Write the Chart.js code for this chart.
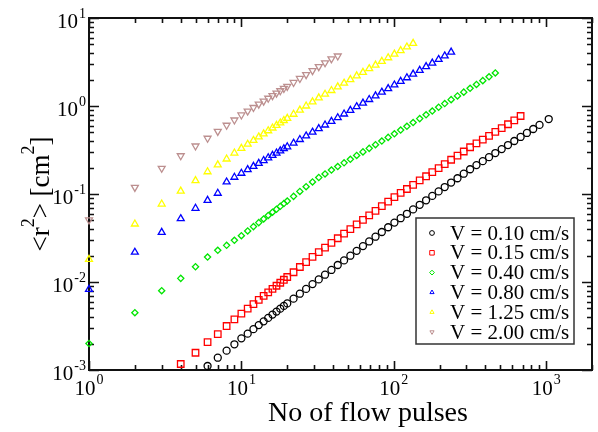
<!DOCTYPE html>
<html>
<head>
<meta charset="utf-8">
<script src="https://cdn.jsdelivr.net/npm/chart.js@4.4.1/dist/chart.umd.min.js"></script>
<style>
  html, body { margin: 0; padding: 0; background: #fff; }
  #wrap { width: 598px; height: 432px; }
</style>
</head>
<body>
<div id="wrap"><canvas id="chart" width="598" height="432"></canvas></div>
<script>
// number of flow pulses (shared sampling grid)
const pulses = [1, 2, 3, 4, 5, 6, 7, 8, 9, 10, 11, 12, 13, 14, 15, 16, 17, 18, 19, 20,
  22, 24.2, 26.6, 29.3, 32.2, 35.4, 39.0, 42.9, 47.2, 51.9, 57.1, 62.8, 69.0, 75.9, 83.5, 91.9,
  101, 111, 122, 134, 148, 163, 179, 197, 216, 238, 262, 288, 317, 349, 384, 422, 464, 511,
  562, 618, 680, 748, 823, 905, 1040];

const seriesLabels = ['V = 0.10 cm/s', 'V = 0.15 cm/s', 'V = 0.40 cm/s',
  'V = 0.80 cm/s', 'V = 1.25 cm/s', 'V = 2.00 cm/s'];

// <r^2> in cm^2, aligned with pulses (null = no point)
const v010 = [null, null, null, null, null,
  0.00111, 0.00138, 0.00166, 0.00196, 0.00229, 0.00259, 0.00291, 0.00324, 0.00357, 0.00391,
  0.00426, 0.00461, 0.00498, 0.00535, 0.00571, 0.00647, 0.00736, 0.00834, 0.00946, 0.0107,
  0.0121, 0.0137, 0.0156, 0.0176, 0.0199, 0.0226, 0.0256, 0.0289, 0.0327, 0.0370, 0.0419,
  0.0473, 0.0531, 0.0596, 0.0668, 0.0754, 0.0848, 0.0952, 0.107, 0.120, 0.135, 0.151, 0.170,
  0.191, 0.213, 0.236, 0.262, 0.292, 0.324, 0.360, 0.400, 0.445, 0.494, 0.548, 0.610, 0.711];
const v015 = [null, null, null,
  0.00117, 0.00157, 0.00207, 0.00256, 0.00316, 0.00377, 0.00437, 0.00497, 0.00561, 0.00627,
  0.00694, 0.00764, 0.00835, 0.00907, 0.00981, 0.0106, 0.0114, 0.0129, 0.0148, 0.0168, 0.0193,
  0.0219, 0.0246, 0.0278, 0.0314, 0.0354, 0.0399, 0.0451, 0.0508, 0.0572, 0.0644, 0.0727,
  0.0819, 0.0922, 0.103, 0.114, 0.127, 0.143, 0.159, 0.177, 0.197, 0.219, 0.245, 0.273, 0.304,
  0.340, 0.376, 0.415, 0.458, 0.507, 0.560, 0.620, 0.685, 0.770];
const v040 = [0.00200, 0.00448, 0.00796, 0.0110, 0.0149, 0.0192, 0.0229, 0.0261, 0.0298, 0.0336,
  0.0380, 0.0426, 0.0473, 0.0521, 0.0570, 0.0621, 0.0671, 0.0724, 0.0778, 0.0831,
  0.0940, 0.107, 0.121, 0.137, 0.154, 0.169, 0.187, 0.205, 0.226, 0.248, 0.274, 0.301, 0.330,
  0.363, 0.400, 0.440, 0.483, 0.533, 0.588, 0.649, 0.719, 0.795, 0.877, 0.968, 1.065, 1.181,
  1.302, 1.437, 1.589, 1.759, 1.942, 2.145, 2.374];
const v080 = [0.00826, 0.0218, 0.0367, 0.0524, 0.0688, 0.0847, 0.102, 0.137, 0.155, 0.172,
  0.189, 0.206, 0.223, 0.240, 0.258, 0.275, 0.292, 0.309, 0.327, 0.344,
  0.378, 0.416, 0.457, 0.504, 0.553, 0.608, 0.670, 0.736, 0.811, 0.891, 0.982, 1.079, 1.186,
  1.303, 1.435, 1.578, 1.734, 1.905, 2.094, 2.301, 2.541, 2.799, 3.076, 3.381, 3.707, 4.093];
const v125 = [0.0181, 0.0456, 0.0769, 0.108, 0.142, 0.179, 0.214, 0.250, 0.292, 0.330,
  0.368, 0.406, 0.445, 0.483, 0.523, 0.562, 0.602, 0.642, 0.684, 0.724,
  0.806, 0.899, 1.000, 1.116, 1.239, 1.361, 1.500, 1.648, 1.816, 1.995, 2.198, 2.415, 2.655,
  2.917, 3.214, 3.532, 3.882, 4.266, 4.688, 5.152];
const v200 = [0.0507, 0.119, 0.196, 0.272, 0.351, 0.430, 0.515, 0.604, 0.693, 0.791,
  0.876, 0.962, 1.050, 1.137, 1.225, 1.313, 1.401, 1.491, 1.582, 1.671,
  1.851, 2.055, 2.275, 2.526, 2.797, 3.097, 3.438, 3.700];

const xTicks = [1, 10, 100, 1000];
const yTicks = [0.001, 0.01, 0.1, 1, 10];

const serif = '"Liberation Serif", "Times New Roman", serif';

const styles = [
  { color: '#000000', shape: 'circle', r: 3.5, rot: 0 },
  { color: '#ff0000', shape: 'rect', r: 4.6, rot: 0 },
  { color: '#00e600', shape: 'rectRot', r: 3.1, rot: 0 },
  { color: '#0000ff', shape: 'triangle', r: 4.0, rot: 0 },
  { color: '#ffff00', shape: 'triangle', r: 4.0, rot: 0 },
  { color: '#bc8f8f', shape: 'triangle', r: 4.0, rot: 180 },
];

function toPoints(ys) {
  const pts = [];
  ys.forEach((y, i) => { if (y !== null) pts.push({ x: pulses[i], y: y }); });
  return pts;
}

const allSeries = [v010, v015, v040, v080, v125, v200];

const datasets = allSeries.map((ys, i) => ({
  label: seriesLabels[i],
  data: toPoints(ys),
  showLine: false,
  clip: false,
  pointStyle: styles[i].shape,
  pointRadius: styles[i].r,
  pointRotation: styles[i].rot,
  pointBorderWidth: 1.3,
  pointBorderColor: styles[i].color,
  pointBackgroundColor: 'rgba(0,0,0,0)',
  borderColor: styles[i].color,
  backgroundColor: 'rgba(0,0,0,0)',
}));

function powLabel(ctx, exp, x, yBase, yExp, anchor) {
  ctx.font = '21px ' + serif;
  const wBase = ctx.measureText('10').width;
  ctx.font = '14px ' + serif;
  const wExp = ctx.measureText(exp).width;
  const total = wBase + wExp + 1;
  const left = anchor === 'right' ? x - total : x - total / 2;
  ctx.textAlign = 'left';
  ctx.textBaseline = 'middle';
  ctx.font = '21px ' + serif;
  ctx.fillText('10', left, yBase);
  ctx.font = '14px ' + serif;
  ctx.fillText(exp, left + wBase + 1, yExp);
}

const framePlugin = {
  id: 'frame',
  beforeDatasetsDraw(chart) {
    const { ctx, chartArea: a, scales } = chart;
    const xs = scales.x, ys = scales.y;
    ctx.save();
    ctx.strokeStyle = '#111';
    ctx.lineWidth = 1.6;
    ctx.beginPath();
    // x ticks, bottom and top, pointing inward
    for (let d = 1; d <= 1000; d *= 10) {
      for (let m = 1; m <= 9; m++) {
        const v = d * m;
        if (v > 2000) continue;
        const px = Math.round(xs.getPixelForValue(v)) + 0.5;
        const len = m === 1 ? 9 : 5;
        ctx.moveTo(px, a.bottom); ctx.lineTo(px, a.bottom - len);
        ctx.moveTo(px, a.top); ctx.lineTo(px, a.top + len);
      }
    }
    // y ticks, left and right
    for (let d = 0.001; d <= 10; d *= 10) {
      for (let m = 1; m <= 9; m++) {
        const v = d * m;
        if (v > 10.0001) continue;
        const py = Math.round(ys.getPixelForValue(v)) + 0.5;
        const len = m === 1 ? 10 : 5;
        ctx.moveTo(a.left, py); ctx.lineTo(a.left + len, py);
        ctx.moveTo(a.right, py); ctx.lineTo(a.right - len, py);
      }
    }
    ctx.stroke();
    ctx.lineWidth = 2;
    ctx.strokeRect(a.left, a.top, a.right - a.left, a.bottom - a.top);
    ctx.restore();
  },
  afterDraw(chart) {
    const { ctx, chartArea: a, scales } = chart;
    ctx.save();
    ctx.fillStyle = '#000';
    xTicks.forEach(v => {
      const px = scales.x.getPixelForValue(v);
      powLabel(ctx, String(Math.round(Math.log10(v))), px, a.bottom + 19, a.bottom + 10, 'center');
    });
    yTicks.forEach(v => {
      const py = scales.y.getPixelForValue(v);
      powLabel(ctx, String(Math.round(Math.log10(v))), a.left - 3, py + 4, py - 4, 'right');
    });

    // x title
    ctx.font = '28px ' + serif;
    ctx.textAlign = 'center';
    ctx.textBaseline = 'alphabetic';
    ctx.fillText('No of flow pulses', 368, 421);

    // y title, rotated, with superscripts
    const parts = [['<r', 27, 0], ['2', 18, -15], ['> [cm', 27, 0], ['2', 18, -15], [']', 27, 0]];
    let total = 0;
    parts.forEach(p => { ctx.font = p[1] + 'px ' + serif; total += ctx.measureText(p[0]).width; });
    ctx.translate(49, (a.top + a.bottom) / 2);
    ctx.rotate(-Math.PI / 2);
    ctx.textAlign = 'left';
    let cx = -total / 2;
    parts.forEach(p => {
      ctx.font = p[1] + 'px ' + serif;
      ctx.fillText(p[0], cx, p[2]);
      cx += ctx.measureText(p[0]).width;
    });
    ctx.restore();

    // legend box
    ctx.save();
    const lx = 416, ly = 218, lw = 158, lh = 126;
    ctx.fillStyle = '#fff';
    ctx.fillRect(lx, ly, lw, lh);
    ctx.strokeStyle = '#333';
    ctx.lineWidth = 1.5;
    ctx.strokeRect(lx, ly, lw, lh);
    chart.data.datasets.forEach((ds, i) => {
      const cy = 233 + i * 19.8;
      ctx.fillStyle = 'rgba(0,0,0,0)';
      ctx.strokeStyle = styles[i].color;
      ctx.lineWidth = 1;
      Chart.helpers.drawPoint(ctx, {
        pointStyle: styles[i].shape,
        radius: styles[i].shape === 'rect' ? 3.2 : 2.4,
        rotation: styles[i].rot,
        borderWidth: 1,
      }, 432, cy);
      ctx.fillStyle = '#000';
      ctx.font = '21px ' + serif;
      ctx.textAlign = 'left';
      ctx.textBaseline = 'middle';
      ctx.fillText(ds.label, 450, cy + 1);
    });
    ctx.restore();
  }
};

new Chart(document.getElementById('chart'), {
  type: 'scatter',
  data: { datasets: datasets },
  options: {
    responsive: false,
    animation: false,
    devicePixelRatio: 1,
    layout: { padding: { left: 89, top: 18, right: 6, bottom: 62 } },
    scales: {
      x: { type: 'logarithmic', min: 1, max: 2000, display: false },
      y: { type: 'logarithmic', min: 0.001, max: 10, display: false },
    },
    plugins: {
      legend: { display: false },
      tooltip: { enabled: false },
    },
  },
  plugins: [framePlugin],
});
</script>
</body>
</html>
